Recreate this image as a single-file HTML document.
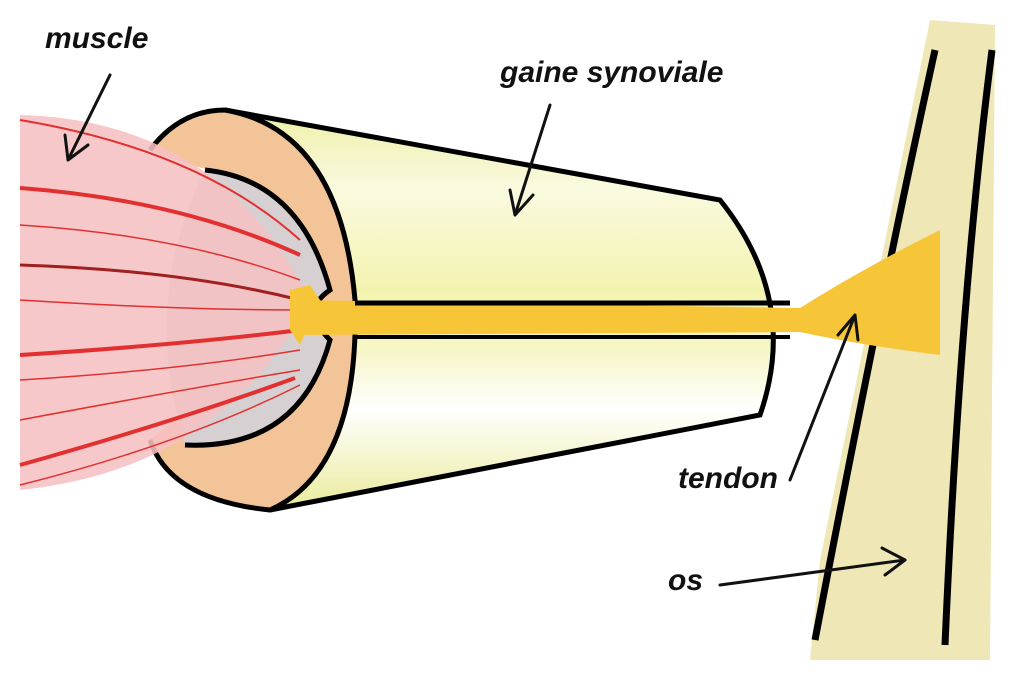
<!DOCTYPE html>
<html><head><meta charset="utf-8"><style>
html,body{margin:0;padding:0;background:#fff;}
svg{display:block}
text{font-family:"Comic Sans MS","Liberation Sans",sans-serif;font-style:italic;font-weight:bold;fill:#111;font-size:30px}
</style></head><body>
<svg width="1024" height="681" viewBox="0 0 1024 681" xmlns="http://www.w3.org/2000/svg">
<defs>
<linearGradient id="body" x1="0" y1="0" x2="0" y2="1">
<stop offset="0" stop-color="#eef0a8"/><stop offset="0.2" stop-color="#fafae0"/><stop offset="0.45" stop-color="#f3f3b0"/>
<stop offset="0.6" stop-color="#f6f6c8"/><stop offset="0.75" stop-color="#ffffff"/><stop offset="1" stop-color="#eaeb9a"/>
</linearGradient>
</defs>
<!-- bone -->
<path d="M930,20 L995,25 L990,660 L810,660 L820,560 Z" fill="#efe7b6"/>
<path d="M935,50 Q880,300 815,640" stroke="#000" stroke-width="7" fill="none"/>
<path d="M992,50 Q960,300 945,645" stroke="#000" stroke-width="7" fill="none"/>
<!-- sheath body -->
<path d="M225,110 L720,200 Q800,300 760,415 L270,510 Z" fill="url(#body)"/>
<path d="M225,110 L720,200 Q800,300 760,415 L270,510" stroke="#000" stroke-width="5" fill="none"/>
<!-- ring -->
<path d="M225,110 Q340,130 355,300 Q360,470 270,510 Q170,500 150,440 Q175,420 200,400 Q150,300 210,170 Q170,160 150,150 Q180,110 225,110 Z" fill="#f3c497"/>
<path d="M205,170 Q300,180 330,290 Q300,310 330,340 Q300,450 185,445 Q140,300 205,170 Z" fill="#d6d0d2"/>
<path d="M205,170 Q300,180 330,290 Q300,310 330,340 Q300,450 185,445" fill="none" stroke="#000" stroke-width="5"/>
<path d="M150,150 Q180,110 225,110 Q340,130 355,300 Q360,470 270,510 Q170,500 150,440" fill="none" stroke="#000" stroke-width="5"/>
<!-- muscle -->
<path d="M20,115 Q220,120 310,300 Q220,470 20,490 Z" fill="#f6c0c2" opacity="0.88"/>
<g stroke="#e23030" fill="none">
<path d="M20,120 Q200,150 300,240" stroke-width="2"/>
<path d="M20,188 Q180,200 300,255" stroke-width="4"/>
<path d="M20,225 Q180,235 300,280" stroke-width="1.5"/>
<path d="M20,265 Q180,270 300,300" stroke-width="3" stroke="#a02020"/>
<path d="M20,300 Q180,310 300,310" stroke-width="1.5"/>
<path d="M20,355 Q180,345 300,330" stroke-width="4"/>
<path d="M20,380 Q180,370 300,350" stroke-width="1.5"/>
<path d="M20,420 Q180,390 300,370" stroke-width="1.5"/>
<path d="M20,465 Q180,420 295,378" stroke-width="4"/>
<path d="M20,485 Q180,445 300,385" stroke-width="1.5"/>
</g>
<!-- tendon -->
<path d="M295,300 L800,308 Q860,270 940,230 L940,355 Q860,345 800,332 L295,335 Z" fill="#f7c638"/>
<path d="M290,290 L310,285 L320,300 L300,345 L290,330 Z" fill="#f7c638"/>
<line x1="355" y1="303" x2="790" y2="303" stroke="#000" stroke-width="5"/>
<line x1="355" y1="337" x2="790" y2="337" stroke="#000" stroke-width="4"/>
<!-- labels -->
<text x="45" y="48">muscle</text>
<text x="500" y="82">gaine synoviale</text>
<text x="678" y="488">tendon</text>
<text x="668" y="590">os</text>
<!-- arrows -->
<g stroke="#111" stroke-width="3" fill="none" stroke-linecap="round">
<path d="M110,75 L68,160 M68,160 L65,135 M68,160 L88,145"/>
<path d="M550,105 L515,215 M515,215 L510,190 M515,215 L533,195"/>
<path d="M790,480 L855,315 M855,315 L838,335 M855,315 L858,340"/>
<path d="M720,585 L905,560 M905,560 L882,548 M905,560 L885,575"/>
</g>
</svg>
</body></html>
